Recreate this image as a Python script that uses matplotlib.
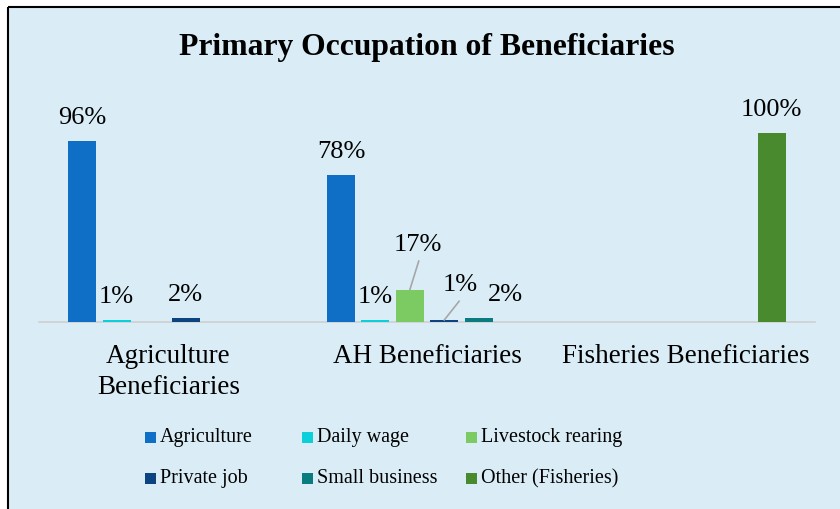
import matplotlib.pyplot as plt
import numpy as np
from matplotlib.patches import Rectangle

plt.rcParams['font.family'] = ['Liberation Serif', 'DejaVu Serif']

groups = ['Agriculture\nBeneficiaries', 'AH Beneficiaries', 'Fisheries Beneficiaries']
series = ['Agriculture', 'Daily wage', 'Livestock rearing',
          'Private job', 'Small business', 'Other (Fisheries)']
colors = ['#0F6FC6', '#0BD0D9', '#7CCA62', '#0B4480', '#0A7C80', '#4A8A2E']
# percent per series, one value per group
agri_vals = [96, 78, 0]
daily_vals = [1, 1, 0]
livestock_vals = [0, 17, 0]
private_vals = [2, 1, 0]
smallbiz_vals = [0, 2, 0]
other_vals = [0, 0, 100]
values = [agri_vals, daily_vals, livestock_vals, private_vals, smallbiz_vals, other_vals]

bg = '#DAEDF7'
W, H = 840, 510
fig = plt.figure(figsize=(8.4, 5.1), dpi=100)
fig.patch.set_facecolor('white')

# chart area background with border on top and left only
bgax = fig.add_axes([0, 0, 1, 1], zorder=-5)
bgax.set_xlim(0, W)
bgax.set_ylim(H, 0)
bgax.axis('off')
bgax.add_patch(Rectangle((8, 8), W, H, facecolor=bg, edgecolor='none'))
bgax.plot([8, W], [8, 8], color='black', lw=1.5, solid_capstyle='butt')
bgax.plot([8, 8], [8, H], color='black', lw=1.5, solid_capstyle='butt')

ax = fig.add_axes([39 / W, 187 / H, 776 / W, 233 / H])
ax.set_facecolor('none')
for s in ['top', 'right', 'left']:
    ax.spines[s].set_visible(False)
ax.spines['bottom'].set_color('#D0D0D0')
ax.spines['bottom'].set_linewidth(1.2)

x = np.arange(len(groups))
slot = 0.133
bw = 0.108
# label offsets in pixels (dx, dy) relative to bar top center
offsets = {}
offsets[(2, 1)] = (8, 46)
offsets[(3, 1)] = (16, 36)
offsets[(4, 1)] = (27, 24)
for i, (name, vals) in enumerate(zip(series, values)):
    xs = x + (i - 2.5) * slot
    ax.bar(xs, vals, width=bw, color=colors[i], zorder=3)
    for g, v in enumerate(vals):
        if v == 0:
            continue
        dx, dy = offsets.get((i, g), (0, 24))
        ax.annotate(f'{v}%', (xs[g], v), xytext=(dx, dy), textcoords='offset pixels',
                    ha='center', va='center', fontsize=19, color='black')

# leader lines for moved labels
ax.annotate('', (x[1] - 0.5 * slot, 17), xytext=(9, 29), textcoords='offset pixels',
            arrowprops=dict(arrowstyle='-', color='#A6A6A6', lw=1.2, shrinkA=0, shrinkB=0))
ax.annotate('', (x[1] + 0.5 * slot, 1), xytext=(15, 19), textcoords='offset pixels',
            arrowprops=dict(arrowstyle='-', color='#A6A6A6', lw=1.2, shrinkA=0, shrinkB=0))

ax.set_xlim(-0.5, 2.5)
ax.set_ylim(0, 123.3)
ax.set_yticks([])
ax.set_xticks(x)
ax.set_xticklabels(groups, fontsize=19.5, linespacing=1.35)
ax.tick_params(axis='x', length=0, pad=15)

fig.text(427 / W, 1 - 47 / H, 'Primary Occupation of Beneficiaries', ha='center', va='center',
         fontsize=22.8, fontweight='bold')

# legend
col_x = [145, 302, 466]
row_y = [438, 479]
for i, name in enumerate(series):
    cx = col_x[i % 3]
    cy = row_y[i // 3]
    fig.patches.append(Rectangle((cx / W, (H - cy - 5.5) / H), 11 / W, 11 / H,
                                 transform=fig.transFigure, facecolor=colors[i], edgecolor='none'))
    fig.text((cx + 15) / W, 1 - cy / H, name, ha='left', va='center', fontsize=14.5)

fig.savefig('out.png', dpi=100, facecolor=fig.get_facecolor())
